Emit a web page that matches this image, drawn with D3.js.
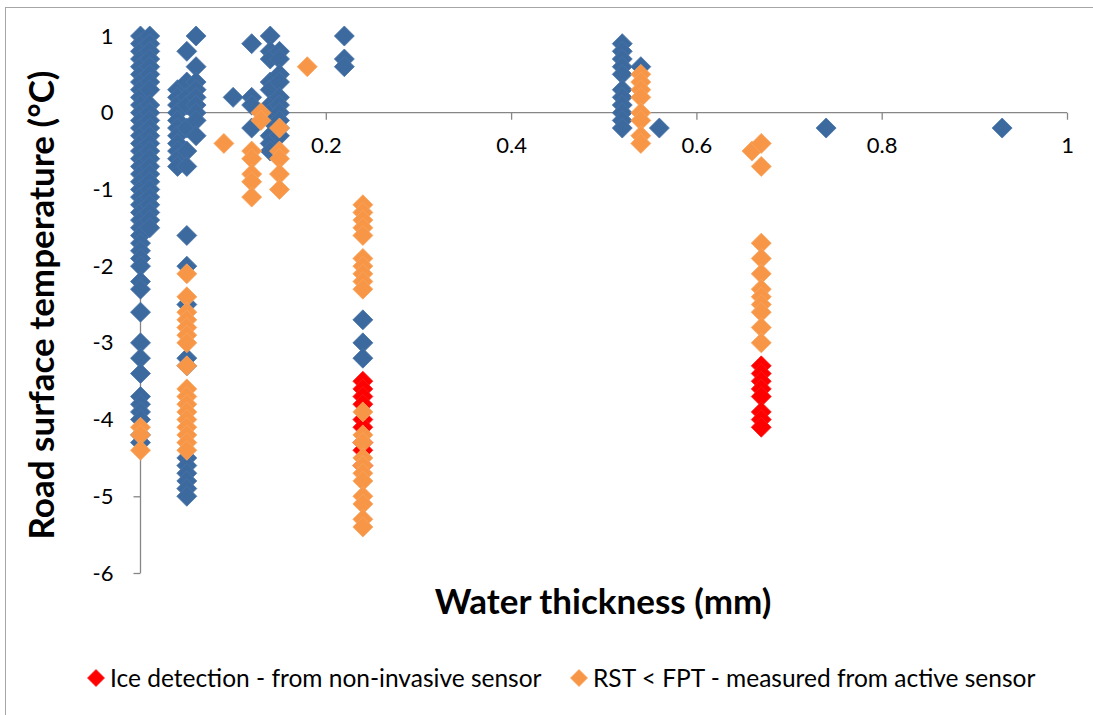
<!DOCTYPE html>
<html>
<head>
<meta charset="utf-8">
<script src="https://cdn.jsdelivr.net/npm/d3@7"></script>
<style>
  html, body { margin: 0; padding: 0; background: #fff; }
  svg { display: block; font-family: Lato, "Open Sans", sans-serif; }
</style>
</head>
<body>
<svg id="chart" width="1093" height="715"></svg>
<script>
// ---- data: [water thickness (mm), road surface temperature (°C)] ----
const otherSeries = [
  [0,1.0],[0,0.9],[0,0.8],[0,0.7],[0,0.6],[0,0.5],[0,0.4],[0,0.3],[0,0.2],[0,0.1],[0,0],[0,-0.1],[0,-0.2],[0,-0.3],[0,-0.4],[0,-0.5],[0,-0.6],[0,-0.7],[0,-0.8],[0,-0.9],[0,-1.0],[0,-1.1],[0,-1.2],[0,-1.3],[0,-1.4],[0,-1.5],[0,-1.6],[0,-1.7],[0,-1.8],[0,-1.9],[0,-2.0],[0,-2.2],[0,-2.3],[0,-2.6],[0,-3.0],[0,-3.2],[0,-3.4],[0,-3.7],[0,-3.8],[0,-3.9],[0,-4.0],[0,-4.2],[0,-4.3],
  [0.01,1.0],[0.01,0.9],[0.01,0.8],[0.01,0.7],[0.01,0.6],[0.01,0.5],[0.01,0.4],[0.01,0.3],[0.01,0.1],[0.01,0],[0.01,-0.1],[0.01,-0.2],[0.01,-0.3],[0.01,-0.4],[0.01,-0.5],[0.01,-0.6],[0.01,-0.7],[0.01,-0.8],[0.01,-0.9],[0.01,-1.0],[0.01,-1.1],[0.01,-1.2],[0.01,-1.3],[0.01,-1.4],[0.01,-1.5],
  [0.04,0.3],[0.04,0.2],[0.04,0.1],[0.04,0],[0.04,-0.1],[0.04,-0.2],[0.04,-0.3],[0.04,-0.4],[0.04,-0.5],[0.04,-0.6],[0.04,-0.7],
  [0.05,0.8],[0.05,0.4],[0.05,0.2],[0.05,0.1],[0.05,-0.2],[0.05,-0.5],[0.05,-0.7],[0.05,-1.6],[0.05,-2.0],[0.05,-2.5],[0.05,-3.2],[0.05,-3.3],[0.05,-4.5],[0.05,-4.6],[0.05,-4.7],[0.05,-4.8],[0.05,-4.9],[0.05,-5.0],
  [0.06,1.0],[0.06,0.6],[0.06,0.4],[0.06,0.3],[0.06,0.2],[0.06,0.1],[0.06,0],[0.06,-0.1],[0.06,-0.3],
  [0.10,0.2],
  [0.12,0.9],[0.12,0.2],[0.12,0.1],[0.12,-0.2],
  [0.14,1.0],[0.14,0.8],[0.14,0.7],[0.14,0.4],[0.14,0.3],[0.14,0.1],[0.14,0],[0.14,-0.1],[0.14,-0.3],[0.14,-0.4],[0.14,-0.5],
  [0.15,0.8],[0.15,0.7],[0.15,0.5],[0.15,0.4],[0.15,0.2],[0.15,0.1],[0.15,0],[0.15,-0.1],[0.15,-0.2],[0.15,-0.3],
  [0.22,1.0],[0.22,0.7],[0.22,0.6],
  [0.24,-2.7],[0.24,-3.0],[0.24,-3.2],
  [0.52,0.9],[0.52,0.8],[0.52,0.7],[0.52,0.6],[0.52,0.5],[0.52,0.3],[0.52,0.2],[0.52,0.1],[0.52,0],[0.52,-0.1],[0.52,-0.2],
  [0.54,0.6],[0.56,-0.2],[0.74,-0.2],[0.93,-0.2]
];
const iceSeries = [
  [0.24,-3.5],[0.24,-3.6],[0.24,-3.7],[0.24,-3.8],[0.24,-4.0],[0.24,-4.1],[0.24,-4.3],[0.24,-4.4],[0.24,-4.6],
  [0.67,-3.3],[0.67,-3.4],[0.67,-3.5],[0.67,-3.6],[0.67,-3.7],[0.67,-3.9],[0.67,-4.0],[0.67,-4.1]
];
const rstSeries = [
  [0,-4.1],[0,-4.2],[0,-4.4],
  [0.05,-2.1],[0.05,-2.4],[0.05,-2.6],[0.05,-2.7],[0.05,-2.8],[0.05,-2.9],[0.05,-3.0],[0.05,-3.3],[0.05,-3.6],[0.05,-3.7],[0.05,-3.8],[0.05,-3.9],[0.05,-4.0],[0.05,-4.1],[0.05,-4.2],[0.05,-4.3],[0.05,-4.4],
  [0.09,-0.4],
  [0.12,-0.5],[0.12,-0.6],[0.12,-0.8],[0.12,-0.9],[0.12,-1.1],
  [0.13,0],[0.13,-0.1],
  [0.15,-0.2],[0.15,-0.5],[0.15,-0.6],[0.15,-0.8],[0.15,-1.0],
  [0.18,0.6],
  [0.24,-1.2],[0.24,-1.3],[0.24,-1.4],[0.24,-1.5],[0.24,-1.6],[0.24,-1.9],[0.24,-2.0],[0.24,-2.1],[0.24,-2.2],[0.24,-2.3],[0.24,-3.9],[0.24,-4.2],[0.24,-4.3],[0.24,-4.5],[0.24,-4.6],[0.24,-4.7],[0.24,-4.8],[0.24,-5.0],[0.24,-5.1],[0.24,-5.3],[0.24,-5.4],
  [0.54,0.5],[0.54,0.4],[0.54,0.3],[0.54,0.2],[0.54,0],[0.54,-0.1],[0.54,-0.3],[0.54,-0.4],
  [0.66,-0.5],
  [0.67,-0.4],[0.67,-0.7],[0.67,-1.7],[0.67,-1.9],[0.67,-2.1],[0.67,-2.3],[0.67,-2.4],[0.67,-2.5],[0.67,-2.6],[0.67,-2.8],[0.67,-3.0]
];
const xTicks = [0, 0.2, 0.4, 0.6, 0.8, 1];
const yTicks = [1, 0, -1, -2, -3, -4, -5, -6];
const legendLabels = ["Ice detection - from non-invasive sensor", "RST < FPT - measured from active sensor"];
const xTitle = "Water thickness (mm)";
const yTitle = "Road surface temperature (°C)";

// ---- layout ----
const svg = d3.select("#chart");
const x = d3.scaleLinear().domain([0, 1]).range([140.5, 1067]);
const y = d3.scaleLinear().domain([-6, 1]).range([573, 36]);
const axisColor = "#868686";
const fmt = d => String(d);   // plain hyphen minus, as in the original

// outer chart border
svg.append("rect").attr("x", 5.5).attr("y", 7.5).attr("width", 1100).attr("height", 720)
  .attr("fill", "none").attr("stroke", "#a6a6a6").attr("stroke-width", 1);

// x axis at y = 0
const gx = svg.append("g").attr("transform", `translate(0,${y(0)})`)
  .call(d3.axisBottom(x).tickValues(xTicks).tickFormat(fmt).tickSize(7).tickSizeOuter(0).tickPadding(18));
// y axis at x = 0
const gy = svg.append("g").attr("transform", `translate(${x(0)},0)`)
  .call(d3.axisLeft(y).tickValues(yTicks).tickFormat(fmt).tickSize(7).tickSizeOuter(0).tickPadding(20));

[gx, gy].forEach(g => {
  g.select(".domain").attr("stroke", axisColor).attr("stroke-width", 1.3);
  g.selectAll(".tick line").attr("stroke", axisColor).attr("stroke-width", 1.3);
  g.selectAll(".tick text").attr("fill", "#000").style("font-size", "22px").style("font-family", "Lato, 'Open Sans', sans-serif");
});
gx.select(".domain").attr("d", `M${x(0)},0H${x(1)}`);
gy.select(".domain").attr("d", `M0,${y(1)}V${y(-6)}`);

// markers
const diamond = "M0,-10L10,0L0,10L-10,0Z";
function plot(data, fill, stroke) {
  svg.append("g").selectAll("path").data(data).join("path")
    .attr("d", diamond)
    .attr("transform", d => `translate(${x(d[0])},${y(d[1])})`)
    .attr("fill", fill).attr("stroke", stroke).attr("stroke-width", 0.8);
}
plot(otherSeries, "#3D6A9E", "#4672A8");
plot(iceSeries, "#FF0000", "#FF1a1a");
plot(rstSeries, "#F79646", "#F9A45E");

// axis titles
svg.append("text").attr("x", 603).attr("y", 614).attr("text-anchor", "middle")
  .style("font-size", "35px").style("font-weight", "bold").text(xTitle);
svg.append("text").attr("transform", "translate(54,305) rotate(-90)").attr("text-anchor", "middle")
  .style("font-size", "35px").style("font-weight", "bold").text(yTitle);

// legend
const legendItems = [
  { label: legendLabels[0], fill: "#FF0000", stroke: "#FF1a1a", mx: 96, tx: 110 },
  { label: legendLabels[1], fill: "#F79646", stroke: "#F9A45E", mx: 579, tx: 593 }
];
const lg = svg.append("g");
legendItems.forEach(it => {
  lg.append("path").attr("d", "M0,-8.5L8.5,0L0,8.5L-8.5,0Z").attr("transform", `translate(${it.mx},678)`)
    .attr("fill", it.fill).attr("stroke", it.stroke).attr("stroke-width", 0.8);
  lg.append("text").attr("x", it.tx).attr("y", 687).style("font-size", "24.5px").attr("fill", "#000").text(it.label);
});
</script>
</body>
</html>
